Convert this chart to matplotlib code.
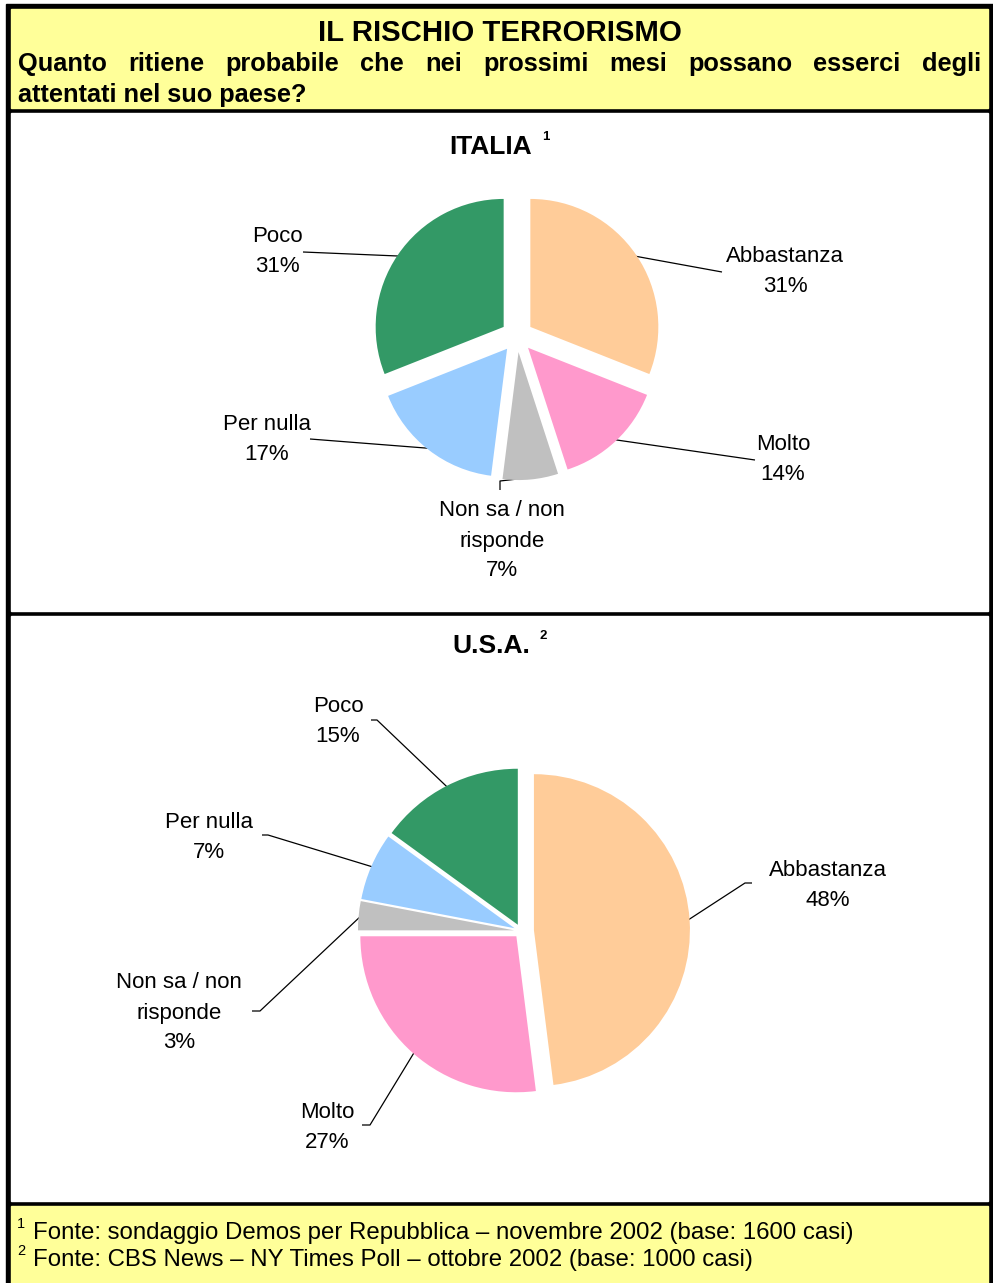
import matplotlib
matplotlib.use('Agg')
import matplotlib.pyplot as plt
import numpy as np
from matplotlib.patches import Rectangle

W, H = 993, 1283
plt.rcParams['font.family'] = ['Liberation Sans', 'DejaVu Sans']

# ---------------- data ----------------
categories = ['Abbastanza', 'Molto', 'Non sa / non risponde', 'Per nulla', 'Poco']
label_lines = [['Abbastanza'], ['Molto'], ['Non sa / non', 'risponde'], ['Per nulla'], ['Poco']]
italia_values = [31, 14, 7, 17, 31]
usa_values = [48, 27, 3, 7, 15]
colors = ['#FFCC99', '#FF99CC', '#C0C0C0', '#99CCFF', '#339966']

title = 'IL RISCHIO TERRORISMO'
subtitle_line1 = 'Quanto ritiene probabile che nei prossimi mesi possano esserci degli'
subtitle_line2 = 'attentati nel suo paese?'
panel_titles = ['ITALIA', 'U.S.A.']
panel_marks = ['1', '2']
notes = ['Fonte: sondaggio Demos per Repubblica \u2013 novembre 2002 (base: 1600 casi)',
         'Fonte: CBS News \u2013 NY Times Poll \u2013 ottobre 2002 (base: 1000 casi)']

# ---------------- figure ----------------
fig = plt.figure(figsize=(W / 100, H / 100), dpi=100)
ax = fig.add_axes([0, 0, 1, 1])
ax.set_xlim(0, W)
ax.set_ylim(H, 0)
ax.axis('off')

DY = 2  # vertical offset for centred text
YEL = '#FFFF99'
# outer black frame then inner areas
ax.add_patch(Rectangle((6, 4), W - 6, H - 4 + 5, color='black', zorder=0))
ax.add_patch(Rectangle((11, 9), 977, 99, color=YEL, zorder=1))
ax.add_patch(Rectangle((11, 113), 977, 498, color='white', zorder=1))
ax.add_patch(Rectangle((11, 616), 977, 585, color='white', zorder=1))
ax.add_patch(Rectangle((11, 1206), 977, H - 1206 + 5, color=YEL, zorder=1))

# header texts
ax.text(499.5, 30 + 3, title, ha='center', va='center', fontsize=21.2, fontweight='bold', zorder=3)

renderer = fig.canvas.get_renderer()
words = subtitle_line1.split()
tobjs = [ax.text(0, 62 + DY, w_, ha='left', va='center', fontsize=18.3, fontweight='bold', zorder=3)
         for w_ in words]
widths = []
inv = ax.transData.inverted()
for t in tobjs:
    bb = t.get_window_extent(renderer)
    x0 = inv.transform((bb.x0, bb.y0))[0]
    x1 = inv.transform((bb.x1, bb.y0))[0]
    widths.append(x1 - x0)
left, right = 18, 981
gap = (right - left - sum(widths)) / (len(words) - 1)
xpos = left
for t, wd in zip(tobjs, widths):
    t.set_x(xpos)
    xpos += wd + gap
ax.text(18, 93 + DY, subtitle_line2, ha='left', va='center', fontsize=18.3, fontweight='bold', zorder=3)

# panel titles
ax.text(491, 145 + DY, panel_titles[0], ha='center', va='center', fontsize=19, fontweight='bold', zorder=3)
ax.text(546, 135 + DY, panel_marks[0], ha='center', va='center', fontsize=9.5, fontweight='bold', zorder=3)
ax.text(491.5, 644 + DY, panel_titles[1], ha='center', va='center', fontsize=19, fontweight='bold', zorder=3)
ax.text(543, 634 + DY, panel_marks[1], ha='center', va='center', fontsize=9.5, fontweight='bold', zorder=3)

# footnotes
ax.text(21, 1222 + DY, '1', ha='center', va='center', fontsize=10.5, zorder=3)
ax.text(33, 1231 + DY, notes[0], ha='left', va='center', fontsize=17.3, zorder=3)
ax.text(21, 1249 + DY, '2', ha='center', va='center', fontsize=10.5, zorder=3)
ax.text(33, 1258 + DY, notes[1], ha='left', va='center', fontsize=17.3, zorder=3)

LFS = 16
LSP = 30


def draw_pie(values, cx, cy, r, explode, specs):
    L = 1.35
    size = 2 * L * r
    pax = fig.add_axes([(cx - L * r) / W, 1 - (cy + L * r) / H, size / W, size / H])
    wedges, _ = pax.pie(values, colors=colors, startangle=90, counterclock=False,
                        explode=explode, radius=1, frame=True,
                        wedgeprops=dict(linewidth=0))
    pax.set_xlim(-L, L)
    pax.set_ylim(-L, L)
    pax.axis('off')
    for w, v, lines, (lx, ly, path) in zip(wedges, values, label_lines, specs):
        mid = np.deg2rad((w.theta1 + w.theta2) / 2)
        wx, wy = w.center
        sx = cx + (wx + 0.985 * np.cos(mid)) * r
        sy = cy - (wy + 0.985 * np.sin(mid)) * r
        pts = list(path) + [(sx, sy)]
        ax.plot([p[0] for p in pts], [p[1] for p in pts], color='black', lw=0.9, zorder=3,
                solid_capstyle='butt')
        all_lines = lines + ['%d%%' % v]
        for i, s in enumerate(all_lines):
            ax.text(lx, ly + i * LSP + DY, s, ha='center', va='center', fontsize=LFS, zorder=3)


italia_specs = [
    (785, 255, [(722, 272)]),
    (783, 442, [(755, 460)]),
    (502, 509, [(500, 490), (500, 481)]),
    (267, 422, [(310, 439)]),
    (277, 235, [(303, 252)]),
]
usa_specs = [
    (828, 868, [(752, 883), (745, 883)]),
    (327, 1110, [(362, 1125), (370, 1125)]),
    (179, 981, [(252, 1011), (260, 1011)]),
    (209, 821, [(262, 835), (268, 835)]),
    (338, 705, [(371, 720), (377, 720)]),
]

draw_pie(italia_values, 517, 336, 128, [0.126] * 5, italia_specs)
draw_pie(usa_values, 521, 931, 156, [0.083, 0.045, 0.045, 0.045, 0.045], usa_specs)

fig.savefig('out.png', dpi=100)
